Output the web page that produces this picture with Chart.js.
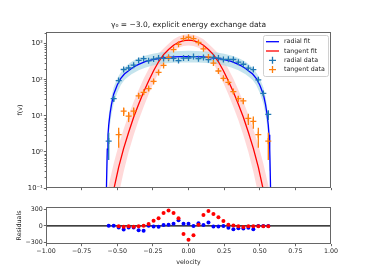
<!DOCTYPE html>
<html>
<head>
<meta charset="utf-8">
<script src="https://cdn.jsdelivr.net/npm/chart.js@4.4.0/dist/chart.umd.min.js"></script>
<style>
  html, body { margin: 0; padding: 0; background: #fff; }
  #wrap { position: relative; width: 368px; height: 276px; }
  canvas { position: absolute; left: 0; }
  #top { top: 0; }
  #res { top: 196px; }
</style>
</head>
<body>
<div id="wrap">
  <canvas id="top" width="368" height="200"></canvas>
  <canvas id="res" width="368" height="80"></canvas>
</div>
<script>
// velocity bins of the measured data
const dataV = [-0.560, -0.525, -0.490, -0.455, -0.420, -0.385, -0.350, -0.315, -0.280, -0.245, -0.210,
  -0.175, -0.140, -0.105, -0.070, -0.035, 0.000, 0.035, 0.070, 0.105, 0.140, 0.175, 0.210, 0.245,
  0.280, 0.315, 0.350, 0.385, 0.420, 0.455, 0.490, 0.525, 0.560];

const radialData = [2.0, 30, 95, 193, 212, 255, 345, 385, 335, 375, 400, 390, 398, 390, 340, 400, 402,
  439, 385, 413, 360, 415, 400, 365, 370, 365, 308, 270, 210, 192, 100, 42, 11];
const radialErr = [1.4, 5.5, 10, 14, 15, 16, 19, 20, 18, 19, 20, 20, 20, 20, 18, 20, 20,
  21, 20, 20, 19, 20, 20, 19, 19, 19, 18, 16, 15, 14, 10, 6.5, 3.3];

const tangentData = [null, null, 3.0, 13.5, 9.8, 13.5, 36, 45, 57, 90, 160, 250, 420, 690, 960, 1390, 1510,
  1390, 1080, 720, 430, 290, 175, 110, 85, 47, 30, 26, 8.5, 7, 3, null, 2];
const tangentErr = [null, null, 1.7, 3.6, 3.1, 3.6, 6, 6.7, 7.5, 9.5, 12.6, 15.8, 20.5, 26, 31, 37, 39,
  37, 33, 27, 20.7, 17, 13.2, 10.5, 9.2, 6.9, 5.5, 5.1, 2.9, 2.6, 1.7, null, 1.4];

const radialResid = [5, 5, -27, -63, -30, -30, -80, -85, 5, -10, -15, 15, 20, 40, 100, 40, 38,
  0, 50, 15, 60, -10, -12, 0, -35, -60, -40, -45, -35, -62, 0, 0, 0];
const tangentResid = [null, null, -5, -15, -8, -15, -5, 5, 36, 93, 138, 230, 275, 230, 140, -147, -250,
  -168, 20, 198, 266, 212, 156, 87, 21, 8, -6, -18, -6, -6, -6, -6, -6];

// fitted curves and their uncertainty bands
const radFitV = [-0.600, -0.585, -0.580, -0.575, -0.570, -0.565, -0.560, -0.550, -0.540, -0.525, -0.500,
  -0.475, -0.450, -0.425, -0.400, -0.375, -0.350, -0.300, -0.250, -0.200, -0.150, -0.100, -0.050, 0.000,
  0.050, 0.100, 0.150, 0.200, 0.250, 0.300, 0.350, 0.375, 0.400, 0.425, 0.450, 0.475, 0.500, 0.525,
  0.540, 0.550, 0.560, 0.565, 0.570, 0.575, 0.580, 0.585, 0.600];
const radFit = [0.001, 0.001, 0.01, 0.15, 1.2, 3, 5.5, 12, 21, 40, 72, 110, 145, 172, 205, 238, 268, 322,
  362, 395, 415, 430, 437, 440, 437, 430, 415, 395, 362, 322, 268, 238, 205, 172, 145, 110, 72, 40,
  21, 12, 5.5, 3, 1.2, 0.15, 0.01, 0.001, 0.001];
const radHi = [0.001, 0.005, 0.03, 0.5, 2.5, 6, 10, 20, 35, 62, 110, 160, 215, 265, 315, 360, 400, 470,
  525, 570, 600, 620, 632, 636, 632, 620, 600, 570, 525, 470, 400, 360, 315, 265, 215, 160, 110, 62,
  35, 20, 10, 6, 2.5, 0.5, 0.03, 0.005, 0.001];
const radLo = [0.001, 0.001, 0.001, 0.02, 0.3, 1.2, 2.5, 6, 11, 22, 44, 72, 98, 120, 142, 163, 183, 220,
  250, 272, 286, 295, 300, 302, 300, 295, 286, 272, 250, 220, 183, 163, 142, 120, 98, 72, 44, 22,
  11, 6, 2.5, 1.2, 0.3, 0.02, 0.001, 0.001, 0.001];

const tanFitV = [-0.595, -0.560, -0.525, -0.490, -0.455, -0.420, -0.385, -0.350, -0.315, -0.280, -0.245,
  -0.210, -0.175, -0.140, -0.105, -0.070, -0.035, 0.000, 0.035, 0.070, 0.105, 0.140, 0.175, 0.210,
  0.245, 0.280, 0.315, 0.350, 0.385, 0.420, 0.455, 0.490, 0.525, 0.560, 0.595];
const tanFit = [0.004, 0.02, 0.089, 0.38, 1.26, 3.5, 9.1, 21, 46, 93, 178, 316, 501, 692, 912, 1096, 1216,
  1260, 1216, 1096, 912, 692, 501, 316, 178, 93, 46, 21, 9.1, 3.5, 1.26, 0.38, 0.089, 0.02, 0.004];
const tanHi = [0.027, 0.12, 0.48, 1.55, 4.3, 10.7, 24.5, 52, 107, 200, 347, 537, 740, 1000, 1320, 1585, 1760,
  1820, 1760, 1585, 1320, 1000, 740, 537, 347, 200, 107, 52, 24.5, 10.7, 4.3, 1.55, 0.48, 0.12, 0.027];
const tanLo = [0.001, 0.003, 0.0145, 0.066, 0.28, 1.0, 2.9, 7.6, 17.7, 39, 81, 156, 282, 457, 645, 776, 860,
  890, 860, 776, 645, 457, 282, 156, 81, 39, 17.7, 7.6, 2.9, 1.0, 0.28, 0.066, 0.0145, 0.003, 0.001];

// ticks
const xTicks = [-1, -0.75, -0.5, -0.25, 0, 0.25, 0.5, 0.75, 1];
const xTickLabels = ['\u22121.00', '\u22120.75', '\u22120.50', '\u22120.25', '0.00', '0.25', '0.50', '0.75', '1.00'];
const fTicks = [0.1, 1, 10, 100, 1000];
const fTickLabels = ['10\u207B\u00B9', '10\u2070', '10\u00B9', '10\u00B2', '10\u00B3'];
const resTicks = [-300, 0, 300];
const resTickLabels = ['\u2212300', '0', '300'];

const FONT = '"DejaVu Sans", sans-serif';
const AXIS = '#666';
const TXT = '#222';

function pts(xs, ys) {
  return xs.map((x, i) => ({ x: x, y: ys[i] }));
}

// vertical error bars, drawn through the y scale
const errorBars = {
  id: 'errorBars',
  afterDatasetsDraw(chart) {
    const ctx = chart.ctx, a = chart.chartArea, ys = chart.scales.y;
    ctx.save();
    ctx.beginPath();
    ctx.rect(a.left, a.top, a.right - a.left, a.bottom - a.top);
    ctx.clip();
    chart.data.datasets.forEach((ds, i) => {
      if (!ds.errY) return;
      const meta = chart.getDatasetMeta(i);
      ctx.strokeStyle = ds.borderColor;
      ctx.lineWidth = 1.3;
      meta.data.forEach((p, j) => {
        const v = ds.data[j].y, e = ds.errY[j];
        if (v == null || e == null) return;
        const lo = Math.max(v - e, ys.min * 0.3);
        ctx.beginPath();
        ctx.moveTo(p.x, ys.getPixelForValue(v + e));
        ctx.lineTo(p.x, ys.getPixelForValue(lo));
        ctx.stroke();
      });
    });
    ctx.restore();
  }
};

// axes frame, minor log ticks and free texts
const frame = {
  id: 'frame',
  afterDraw(chart, args, opts) {
    const ctx = chart.ctx, a = chart.chartArea;
    ctx.save();
    ctx.strokeStyle = AXIS;
    ctx.lineWidth = 1;
    ctx.strokeRect(a.left + 0.5, a.top + 0.5, a.right - a.left - 1, a.bottom - a.top - 1);
    if (opts.minor) {
      const ys = chart.scales.y;
      ctx.beginPath();
      for (let d = -1; d <= 3; d++) {
        for (let m = 2; m <= 9; m++) {
          const v = m * Math.pow(10, d);
          if (v > ys.max) continue;
          const y = Math.round(ys.getPixelForValue(v)) + 0.5;
          ctx.moveTo(a.left, y);
          ctx.lineTo(a.left - 1.4, y);
        }
      }
      ctx.stroke();
    }
    (opts.texts || []).forEach(t => {
      ctx.save();
      ctx.translate(t.x, t.y);
      if (t.rot) ctx.rotate(t.rot);
      ctx.font = t.size + 'px ' + FONT;
      ctx.fillStyle = TXT;
      ctx.textAlign = 'center';
      ctx.textBaseline = 'middle';
      ctx.fillText(t.text, 0, 0);
      ctx.restore();
    });
    ctx.restore();
  }
};

// matplotlib-like legend box in the upper right corner
const boxLegend = {
  id: 'boxLegend',
  afterDraw(chart) {
    const ctx = chart.ctx;
    const items = chart.data.datasets.filter(d => d.legendRank).sort((p, q) => p.legendRank - q.legendRank);
    const x0 = 263, y0 = 35, w = 65, h = 41;
    ctx.save();
    ctx.fillStyle = 'rgba(255,255,255,0.85)';
    ctx.strokeStyle = '#d0d0d0';
    ctx.lineWidth = 1;
    ctx.beginPath();
    ctx.roundRect(x0 + 0.5, y0 + 0.5, w, h, 2);
    ctx.fill();
    ctx.stroke();
    ctx.font = '6.3px ' + FONT;
    ctx.textBaseline = 'middle';
    items.forEach((ds, i) => {
      const y = y0 + 6.7 + i * 9.3;
      ctx.strokeStyle = ds.borderColor;
      ctx.lineWidth = 1.3;
      ctx.beginPath();
      if (ds.showLine) {
        ctx.moveTo(266, y);
        ctx.lineTo(279, y);
      } else {
        ctx.moveTo(269, y);
        ctx.lineTo(276, y);
        ctx.moveTo(272.5, y - 3.5);
        ctx.lineTo(272.5, y + 3.5);
      }
      ctx.stroke();
      ctx.fillStyle = TXT;
      ctx.fillText(ds.label, 284, y);
    });
    ctx.restore();
  }
};

function xScale(showLabels, height) {
  return {
    type: 'linear', min: -1, max: 1,
    afterBuildTicks: s => { s.ticks = xTicks.map(v => ({ value: v })); },
    afterFit: s => { s.height = height; },
    ticks: {
      autoSkip: false, maxRotation: 0, padding: 1.5, color: TXT,
      font: { family: FONT, size: 6.3 },
      callback: (v, i) => showLabels ? xTickLabels[i] : ''
    },
    grid: { drawOnChartArea: false, tickLength: 2.2, tickColor: AXIS, color: AXIS },
    border: { display: false }
  };
}

const topChart = new Chart(document.getElementById('top'), {
  type: 'line',
  data: {
    datasets: [
      { label: 'tangent band', data: pts(tanFitV, tanHi), order: 9, fill: '+1',
        backgroundColor: 'rgba(255,0,0,0.15)', borderWidth: 0, pointRadius: 0 },
      { label: 'tangent band lo', data: pts(tanFitV, tanLo), order: 9, fill: false,
        borderWidth: 0, pointRadius: 0 },
      { label: 'radial band', data: pts(radFitV, radHi), order: 8, fill: '+1',
        backgroundColor: 'rgba(173,216,230,0.7)', borderWidth: 0, pointRadius: 0 },
      { label: 'radial band lo', data: pts(radFitV, radLo), order: 8, fill: false,
        borderWidth: 0, pointRadius: 0 },
      { label: 'radial fit', legendRank: 1, data: pts(radFitV, radFit), order: 6, showLine: true,
        borderColor: '#0000ff', borderWidth: 1.3, pointRadius: 0, fill: false },
      { label: 'tangent fit', legendRank: 2, data: pts(tanFitV, tanFit), order: 5, showLine: true,
        borderColor: '#ff0000', borderWidth: 1.3, pointRadius: 0, fill: false },
      { label: 'radial data', legendRank: 3, data: pts(dataV, radialData), errY: radialErr, order: 2,
        showLine: false, borderColor: '#1f77b4', pointStyle: 'cross', pointRadius: 3, pointBorderWidth: 1.3 },
      { label: 'tangent data', legendRank: 4, data: pts(dataV, tangentData), errY: tangentErr, order: 1,
        showLine: false, borderColor: '#ff7f0e', pointStyle: 'cross', pointRadius: 3, pointBorderWidth: 1.3 }
    ]
  },
  plugins: [errorBars, frame, boxLegend],
  options: {
    responsive: false,
    animation: false,
    events: [],
    layout: { padding: { left: 0, right: 37, top: 32, bottom: 9 } },
    scales: {
      x: xScale(false, 3),
      y: {
        type: 'logarithmic', min: 0.1, max: 2113,
        afterBuildTicks: s => { s.ticks = fTicks.map(v => ({ value: v })); },
        afterFit: s => { s.width = 46; },
        ticks: {
          autoSkip: false, padding: 1, color: TXT,
          font: { family: FONT, size: 6.8 },
          callback: (v, i) => fTickLabels[i]
        },
        grid: { drawOnChartArea: false, tickLength: 2.2, tickColor: AXIS, color: AXIS },
        border: { display: false }
      }
    },
    plugins: {
      legend: { display: false },
      tooltip: { enabled: false },
      frame: {
        minor: true,
        texts: [
          { text: '\u03B3\u2080 = \u22123.0, explicit energy exchange data', x: 188.5, y: 25.5, size: 7.5 },
          { text: 'f(v)', x: 20.5, y: 110, rot: -Math.PI / 2, size: 6.3 }
        ]
      }
    }
  }
});

const resChart = new Chart(document.getElementById('res'), {
  type: 'line',
  data: {
    datasets: [
      { label: 'tangent residuals', data: pts(dataV, tangentResid), order: 1, showLine: false,
        backgroundColor: '#ff0000', borderWidth: 0, pointRadius: 2 },
      { label: 'radial residuals', data: pts(dataV, radialResid), order: 2, showLine: false,
        backgroundColor: '#0000ff', borderWidth: 0, pointRadius: 2 },
      { label: 'zero', data: [{ x: -1, y: 0 }, { x: 1, y: 0 }], order: 3, showLine: true,
        borderColor: '#000', borderWidth: 1.2, pointRadius: 0, fill: false }
    ]
  },
  plugins: [frame],
  options: {
    responsive: false,
    animation: false,
    events: [],
    layout: { padding: { left: 0, right: 37, top: 11, bottom: 10 } },
    scales: {
      x: xScale(true, 22),
      y: {
        type: 'linear', min: -325, max: 340,
        afterBuildTicks: s => { s.ticks = resTicks.map(v => ({ value: v })); },
        afterFit: s => { s.width = 46; },
        ticks: {
          autoSkip: false, padding: 1, color: TXT,
          font: { family: FONT, size: 6.3 },
          callback: (v, i) => resTickLabels[i]
        },
        grid: { drawOnChartArea: false, tickLength: 2.2, tickColor: AXIS, color: AXIS },
        border: { display: false }
      }
    },
    plugins: {
      legend: { display: false },
      tooltip: { enabled: false },
      frame: {
        texts: [
          { text: 'Residuals', x: 19, y: 29.5, rot: -Math.PI / 2, size: 6.3 },
          { text: 'velocity', x: 188.5, y: 66, size: 6.3 }
        ]
      }
    }
  }
});
</script>
</body>
</html>
